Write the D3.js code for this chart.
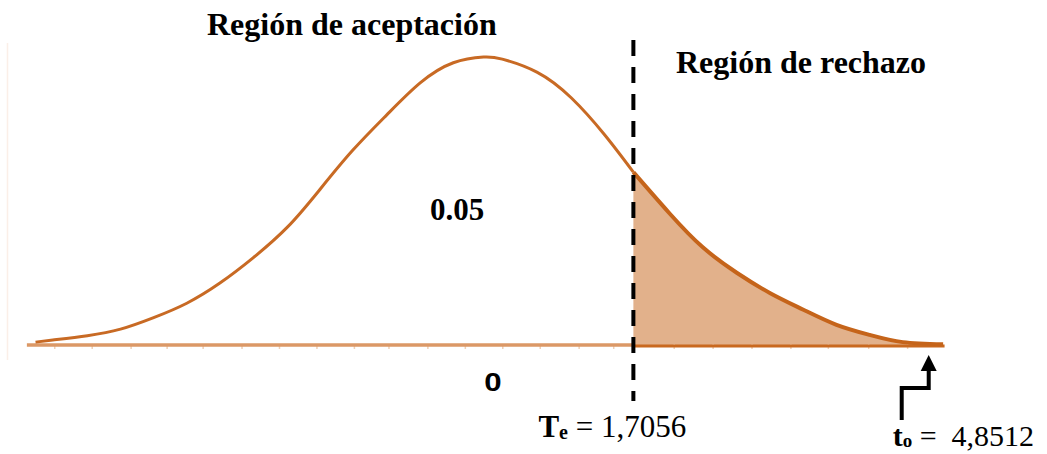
<!DOCTYPE html>
<html>
<head>
<meta charset="utf-8">
<script src="https://cdn.jsdelivr.net/npm/d3@7"></script>
<style>
  body { margin: 0; background: #fff; }
  svg { display: block; }
  .serif { font-family: "Liberation Serif", "Times New Roman", serif; fill: #000; }
</style>
</head>
<body>
<div id="chart"></div>
<script>
// Curve (t on x, density on y)
var curveX = [-3.12, -3.00, -2.76, -2.53, -2.30, -2.07, -1.84, -1.61, -1.37, -1.15, -0.92, -0.68, -0.45, -0.22, -0.01,
  0.12, 0.36, 0.60, 0.83, 1.03, 1.28, 1.51, 1.75, 1.98, 2.21, 2.44, 2.67, 2.90, 3.18];
var curveY = [0.004, 0.007, 0.013, 0.022, 0.038, 0.058, 0.086, 0.121, 0.164, 0.215, 0.270, 0.320, 0.364, 0.392, 0.400,
  0.397, 0.379, 0.343, 0.292, 0.240, 0.183, 0.136, 0.100, 0.072, 0.049, 0.028, 0.014, 0.004, 0.001];

// Small tick marks along the base line
var tickPos = [-2.99, -2.73, -2.46, -2.21, -1.96, -1.69, -1.43, -1.17, -0.91, -0.67, -0.40, -0.14,
  0.12, 0.38, 0.65, 0.89, 1.31, 1.58, 1.85, 2.12, 2.38, 2.66, 2.93];

// Base line extent and the marked positions on the axis
var baseExtent = [-3.18, 3.19];
var teAxisPos = 1.03;   // critical value (dashed line)
var toAxisPos = 3.08;   // observed value (arrow)

// Labels
var titleLeft = "Región de aceptación";
var titleRight = "Región de rechazo";
var alphaLabel = "0.05";
var zeroLabel = "0";
var teValue = "1,7056";
var toValue = "4,8512";

var svgWidth = 1047;
var svgHeight = 454;

var svg = d3.select("#chart")
  .append("svg")
  .attr("width", svgWidth)
  .attr("height", svgHeight);

var xScale = d3.scaleLinear().domain([-3.2, 3.2]).range([24, 946]);
var yScale = d3.scaleLinear().domain([0, 0.4]).range([345, 57]);

var curveData = curveX.map(function(x, i) { return { x: x, y: curveY[i] }; });
var tailData = curveData.filter(function(d) { return d.x >= teAxisPos; });

// faint frame line on the left
svg.append("line")
  .attr("x1", 7.5).attr("x2", 7.5)
  .attr("y1", 43).attr("y2", 360)
  .attr("stroke", "#fbefe8")
  .attr("stroke-width", 1.5);

// shaded rejection area
var area = d3.area()
  .x(d => xScale(d.x))
  .y0(yScale(0))
  .y1(d => yScale(d.y))
  .curve(d3.curveNatural);

svg.append("path")
  .datum(tailData)
  .attr("d", area)
  .attr("fill", "#e2b18b");

// tick marks
var bottomAxis = d3.axisBottom(xScale)
  .tickValues(tickPos)
  .tickSize(5)
  .tickFormat("");

var axisG = svg.append("g")
  .attr("transform", `translate(0, ${yScale(0) - 1})`)
  .call(bottomAxis);
axisG.select(".domain").remove();
axisG.selectAll(".tick line")
  .attr("stroke", "#efcfb6")
  .attr("stroke-width", 1.5);

// base line: light on the left, darker under the shading
svg.append("line")
  .attr("x1", xScale(baseExtent[0])).attr("x2", xScale(teAxisPos))
  .attr("y1", yScale(0)).attr("y2", yScale(0))
  .attr("stroke", "#db9866")
  .attr("stroke-width", 3.5);

svg.append("line")
  .attr("x1", xScale(teAxisPos)).attr("x2", xScale(baseExtent[1]))
  .attr("y1", yScale(0) + 1).attr("y2", yScale(0) + 1)
  .attr("stroke", "#c9691f")
  .attr("stroke-width", 3);

// density curve
var line = d3.line()
  .x(d => xScale(d.x))
  .y(d => yScale(d.y))
  .curve(d3.curveNatural);

svg.append("path")
  .datum(curveData.filter(d => d.x <= teAxisPos))
  .attr("d", line)
  .attr("fill", "none")
  .attr("stroke", "#c86a24")
  .attr("stroke-width", 3);

svg.append("path")
  .datum(tailData)
  .attr("d", line)
  .attr("fill", "none")
  .attr("stroke", "#c5641a")
  .attr("stroke-width", 4);

// dashed critical line
svg.append("line")
  .attr("x1", xScale(teAxisPos)).attr("x2", xScale(teAxisPos))
  .attr("y1", 40).attr("y2", 401)
  .attr("stroke", "#000")
  .attr("stroke-width", 4)
  .attr("stroke-dasharray", "16,11");

// arrow to the observed value
var ax = xScale(toAxisPos);
svg.append("path")
  .attr("d", `M${ax - 27},420 V388 H${ax} V369`)
  .attr("fill", "none")
  .attr("stroke", "#000")
  .attr("stroke-width", 4);

svg.append("path")
  .attr("d", `M${ax - 8},371 L${ax},355 L${ax + 8},371 Z`)
  .attr("fill", "#000");

// titles
svg.append("text")
  .attr("class", "serif")
  .attr("x", 207).attr("y", 35)
  .attr("font-size", 32)
  .attr("font-weight", "bold")
  .text(titleLeft);

svg.append("text")
  .attr("class", "serif")
  .attr("x", 676).attr("y", 73)
  .attr("font-size", 32)
  .attr("font-weight", "bold")
  .text(titleRight);

svg.append("text")
  .attr("class", "serif")
  .attr("x", 430).attr("y", 220)
  .attr("font-size", 31)
  .attr("font-weight", "bold")
  .text(alphaLabel);

svg.append("text")
  .attr("transform", `translate(${xScale(0) + 8}, 391) scale(1.2, 1)`)
  .attr("text-anchor", "middle")
  .attr("font-family", "Liberation Sans, Arial, sans-serif")
  .attr("font-size", 26)
  .attr("font-weight", "bold")
  .attr("fill", "#000")
  .text(zeroLabel);

// critical value label
var teText = svg.append("text")
  .attr("class", "serif")
  .attr("x", xScale(teAxisPos) - 95).attr("y", 437)
  .attr("font-size", 31);
teText.append("tspan").attr("font-weight", "bold").text("T");
teText.append("tspan").attr("font-weight", "bold").attr("font-size", 20).attr("dy", 2).text("e");
teText.append("tspan").attr("dy", -2).text(" = " + teValue);

// observed value label
var toText = svg.append("text")
  .attr("class", "serif")
  .attr("x", ax - 36).attr("y", 446)
  .attr("font-size", 30);
toText.append("tspan").attr("font-weight", "bold").text("t");
toText.append("tspan").attr("font-weight", "bold").attr("font-size", 19).attr("dy", 1).text("o");
toText.append("tspan").attr("dy", -1).attr("xml:space", "preserve").text(" =  " + toValue);
</script>
</body>
</html>
